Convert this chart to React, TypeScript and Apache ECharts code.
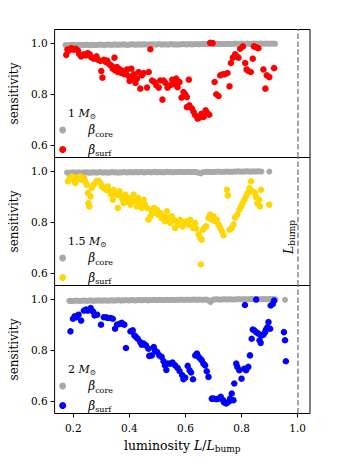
import React, { useEffect, useRef } from "react";
import * as echarts from "echarts";

const FONT = "'DejaVu Serif', 'Liberation Serif', serif";

// x tick labels, y tick labels
const xTicks = [0.2, 0.4, 0.6, 0.8, 1.0];
const yTicks = [0.6, 0.8, 1.0];
const panelTitles = ["1", "1.5", "2"];

// 1 Msun: [L/Lbump, beta_surf]
const surf1 = [
  [0.175,0.953],[0.179,0.974],[0.185,0.970],[0.193,0.979],[0.202,0.973],[0.209,0.977],[0.217,0.970],[0.221,0.957],
  [0.228,0.947],[0.238,0.955],[0.245,0.951],[0.252,0.960],[0.259,0.955],[0.264,0.944],[0.273,0.938],[0.283,0.947],
  [0.288,0.934],[0.297,0.929],[0.300,0.890],[0.304,0.864],[0.309,0.934],[0.316,0.925],[0.321,0.931],[0.327,0.918],
  [0.333,0.912],[0.339,0.908],[0.347,0.942],[0.341,0.899],[0.350,0.892],[0.356,0.905],[0.359,0.886],[0.366,0.896],
  [0.371,0.882],[0.378,0.890],[0.382,0.877],[0.387,0.886],[0.392,0.896],[0.398,0.869],[0.401,0.851],[0.407,0.899],
  [0.413,0.860],[0.416,0.877],[0.422,0.843],[0.427,0.860],[0.433,0.886],[0.439,0.821],[0.445,0.873],[0.451,0.882],
  [0.463,0.825],[0.469,0.886],[0.475,0.975],[0.481,0.853],[0.489,0.847],[0.496,0.834],[0.505,0.825],[0.510,0.853],
  [0.518,0.778],[0.522,0.853],[0.529,0.843],[0.536,0.825],[0.546,0.834],[0.553,0.856],[0.560,0.838],[0.567,0.860],
  [0.572,0.827],[0.579,0.847],[0.586,0.786],[0.593,0.808],[0.599,0.799],[0.605,0.788],[0.612,0.856],[0.605,0.749],
  [0.614,0.756],[0.623,0.743],[0.629,0.730],[0.635,0.717],[0.643,0.704],[0.650,0.708],[0.657,0.723],[0.665,0.710],
  [0.672,0.736],[0.679,0.725],[0.685,0.719],[0.688,1.000],[0.697,0.999],[0.704,0.847],[0.710,0.799],[0.718,0.792],
  [0.724,0.873],[0.733,0.877],[0.741,0.877],[0.750,0.882],[0.757,0.830],[0.762,0.921],[0.769,0.942],[0.777,0.955],
  [0.783,0.947],[0.789,0.942],[0.795,0.977],[0.805,0.986],[0.813,0.921],[0.818,0.896],[0.824,0.890],[0.833,0.886],
  [0.840,0.938],[0.844,0.986],[0.852,0.983],[0.860,0.979],[0.878,0.896],[0.885,0.821],[0.890,0.873],[0.899,0.866],
  [0.916,0.901]
];
const core1 = [
  [0.172,0.991],[0.179,0.990],[0.186,0.991],[0.193,0.992],[0.200,0.992],[0.207,0.991],[0.214,0.991],[0.221,0.992],
  [0.229,0.992],[0.236,0.991],[0.243,0.992],[0.250,0.993],[0.257,0.991],[0.264,0.992],[0.271,0.992],[0.278,0.991],
  [0.286,0.992],[0.293,0.993],[0.300,0.993],[0.307,0.992],[0.314,0.992],[0.321,0.993],[0.329,0.993],[0.336,0.992],
  [0.343,0.993],[0.350,0.994],[0.357,0.992],[0.364,0.993],[0.372,0.993],[0.379,0.994],[0.386,0.993],[0.393,0.992],
  [0.400,0.993],[0.407,0.994],[0.414,0.994],[0.421,0.993],[0.429,0.993],[0.436,0.994],[0.443,0.993],[0.450,0.994],
  [0.457,0.994],[0.464,0.993],[0.471,0.993],[0.478,0.994],[0.486,0.994],[0.493,0.993],[0.500,0.994],[0.507,0.995],
  [0.514,0.993],[0.521,0.994],[0.528,0.994],[0.536,0.993],[0.543,0.994],[0.550,0.995],[0.557,0.993],[0.564,0.994],
  [0.571,0.993],[0.578,0.994],[0.585,0.994],[0.592,0.995],[0.600,0.994],[0.607,0.994],[0.614,0.995],[0.621,0.994],
  [0.628,0.994],[0.635,0.995],[0.642,0.995],[0.650,0.994],[0.657,0.995],[0.664,0.996],[0.671,0.995],[0.678,0.995],
  [0.685,0.995],[0.692,0.996],[0.700,0.996],[0.707,0.995],[0.714,0.995],[0.721,0.996],[0.728,0.996],[0.735,0.995],
  [0.742,0.995],[0.750,0.996],[0.757,0.996],[0.764,0.995],[0.771,0.996],[0.778,0.997],[0.785,0.996],[0.792,0.996],
  [0.800,0.997],[0.807,0.996],[0.814,0.996],[0.821,0.997],[0.828,0.996],[0.835,0.996],[0.843,0.997],[0.850,0.997],
  [0.857,0.996],[0.864,0.997],[0.871,0.997],[0.878,0.996],[0.886,0.997],[0.893,0.997],[0.900,0.996],[0.907,0.997],
  [0.914,0.997],[0.920,0.996]
];

// 1.5 Msun
const surf2 = [
  [0.181,0.959],[0.187,0.972],[0.195,0.978],[0.202,0.965],[0.207,0.952],[0.214,0.974],[0.219,0.969],[0.226,0.978],
  [0.231,0.965],[0.238,0.972],[0.243,0.959],[0.248,0.946],[0.252,0.913],[0.254,0.874],[0.257,0.861],[0.262,0.900],
  [0.266,0.933],[0.273,0.946],[0.282,0.959],[0.290,0.961],[0.297,0.952],[0.302,0.939],[0.309,0.933],[0.317,0.926],
  [0.323,0.939],[0.329,0.920],[0.335,0.907],[0.341,0.887],[0.344,0.926],[0.349,0.913],[0.356,0.907],[0.359,0.855],
  [0.365,0.920],[0.370,0.900],[0.376,0.887],[0.380,0.874],[0.385,0.907],[0.392,0.881],[0.397,0.894],[0.404,0.868],
  [0.408,0.887],[0.415,0.907],[0.420,0.881],[0.427,0.861],[0.432,0.894],[0.439,0.874],[0.444,0.855],[0.451,0.887],
  [0.456,0.868],[0.463,0.855],[0.468,0.809],[0.475,0.822],[0.480,0.842],[0.487,0.855],[0.491,0.835],[0.499,0.848],
  [0.503,0.829],[0.510,0.835],[0.515,0.816],[0.522,0.822],[0.527,0.803],[0.534,0.842],[0.539,0.816],[0.546,0.796],
  [0.551,0.822],[0.558,0.809],[0.563,0.777],[0.570,0.803],[0.574,0.790],[0.581,0.809],[0.590,0.783],[0.596,0.796],
  [0.605,0.803],[0.611,0.790],[0.617,0.809],[0.627,0.777],[0.635,0.796],[0.638,0.774],[0.647,0.751],[0.653,0.738],
  [0.658,0.731],[0.655,0.634],[0.662,0.770],[0.667,0.777],[0.674,0.783],[0.682,0.816],[0.688,0.829],[0.694,0.809],
  [0.700,0.822],[0.706,0.803],[0.712,0.809],[0.718,0.790],[0.724,0.777],[0.730,0.764],[0.736,0.748],[0.748,0.926],
  [0.751,0.904],[0.757,0.770],[0.765,0.777],[0.771,0.790],[0.777,0.818],[0.785,0.829],[0.792,0.848],[0.798,0.861],
  [0.804,0.874],[0.810,0.887],[0.816,0.900],[0.822,0.913],[0.828,0.933],[0.834,0.959],[0.840,0.920],[0.848,0.913],
  [0.852,0.896],[0.856,0.874],[0.863,0.887],[0.866,0.861],[0.869,0.926],[0.899,0.868]
];
const core2 = [
  [0.178,0.993],[0.185,0.992],[0.192,0.993],[0.199,0.994],[0.206,0.993],[0.213,0.993],[0.220,0.994],[0.227,0.993],
  [0.234,0.993],[0.241,0.994],[0.248,0.994],[0.255,0.993],[0.262,0.993],[0.269,0.994],[0.276,0.994],[0.283,0.993],
  [0.290,0.994],[0.297,0.995],[0.304,0.993],[0.311,0.994],[0.318,0.994],[0.325,0.993],[0.332,0.994],[0.339,0.995],
  [0.346,0.994],[0.353,0.994],[0.360,0.993],[0.367,0.994],[0.374,0.994],[0.381,0.995],[0.388,0.994],[0.395,0.994],
  [0.402,0.995],[0.409,0.994],[0.416,0.994],[0.423,0.995],[0.430,0.994],[0.437,0.995],[0.444,0.995],[0.451,0.994],
  [0.458,0.994],[0.465,0.995],[0.472,0.995],[0.479,0.994],[0.486,0.995],[0.493,0.996],[0.500,0.994],[0.507,0.995],
  [0.514,0.995],[0.521,0.994],[0.528,0.995],[0.535,0.996],[0.542,0.995],[0.549,0.995],[0.556,0.994],[0.563,0.995],
  [0.570,0.995],[0.577,0.996],[0.584,0.995],[0.591,0.995],[0.598,0.995],[0.605,0.996],[0.612,0.995],[0.619,0.995],
  [0.626,0.995],[0.633,0.996],[0.640,0.994],[0.647,0.993],[0.654,0.990],[0.661,0.994],[0.668,0.995],[0.675,0.996],
  [0.682,0.996],[0.689,0.995],[0.696,0.995],[0.703,0.996],[0.710,0.996],[0.717,0.997],[0.724,0.996],[0.731,0.996],
  [0.738,0.996],[0.745,0.997],[0.752,0.997],[0.759,0.996],[0.766,0.996],[0.773,0.997],[0.780,0.997],[0.787,0.998],
  [0.794,0.997],[0.801,0.997],[0.808,0.997],[0.815,0.998],[0.822,0.998],[0.829,0.997],[0.836,0.997],[0.843,0.998],
  [0.850,0.997],[0.857,0.998],[0.864,0.998],[0.871,0.997],[0.899,0.997]
];

// 2 Msun
const surf3 = [
  [0.190,0.873],[0.199,0.922],[0.205,0.932],[0.211,0.928],[0.219,0.938],[0.228,0.915],[0.238,0.954],[0.246,0.958],
  [0.252,0.954],[0.262,0.964],[0.270,0.951],[0.276,0.935],[0.285,0.938],[0.299,0.899],[0.309,0.928],[0.317,0.928],
  [0.323,0.925],[0.333,0.925],[0.341,0.922],[0.349,0.883],[0.356,0.899],[0.365,0.902],[0.373,0.906],[0.382,0.899],
  [0.388,0.808],[0.404,0.873],[0.412,0.877],[0.418,0.857],[0.424,0.851],[0.430,0.844],[0.439,0.831],[0.444,0.821],
  [0.451,0.825],[0.459,0.818],[0.468,0.805],[0.471,0.777],[0.480,0.779],[0.487,0.812],[0.491,0.799],[0.499,0.792],
  [0.507,0.779],[0.515,0.773],[0.522,0.756],[0.527,0.740],[0.532,0.722],[0.537,0.747],[0.546,0.747],[0.554,0.751],
  [0.563,0.740],[0.572,0.730],[0.579,0.718],[0.588,0.702],[0.593,0.686],[0.599,0.692],[0.608,0.738],[0.615,0.721],
  [0.620,0.712],[0.627,0.686],[0.635,0.779],[0.641,0.786],[0.647,0.773],[0.653,0.766],[0.658,0.760],[0.664,0.747],
  [0.670,0.740],[0.676,0.717],[0.682,0.695],[0.694,0.610],[0.700,0.610],[0.710,0.608],[0.718,0.610],[0.726,0.617],
  [0.734,0.604],[0.738,0.595],[0.745,0.591],[0.753,0.597],[0.759,0.610],[0.762,0.604],[0.765,0.630],[0.771,0.604],
  [0.774,0.669],[0.781,0.747],[0.785,0.734],[0.792,0.721],[0.800,0.688],[0.809,0.727],[0.816,0.721],[0.824,0.734],
  [0.830,0.779],[0.812,0.976],[0.852,0.997],[0.904,0.974],[0.911,0.980],[0.916,0.993],[0.836,0.844],[0.840,0.880],
  [0.845,0.877],[0.852,0.870],[0.860,0.864],[0.864,0.838],[0.868,0.828],[0.872,0.857],[0.878,0.860],[0.884,0.870],
  [0.887,0.880],[0.892,0.889],[0.896,0.909],[0.902,0.883],[0.951,0.870],[0.955,0.838],[0.958,0.756]
];
const core3 = [
  [0.186,0.992],[0.193,0.991],[0.200,0.992],[0.207,0.993],[0.214,0.993],[0.221,0.992],[0.228,0.992],[0.235,0.993],
  [0.242,0.993],[0.249,0.992],[0.256,0.993],[0.263,0.994],[0.270,0.992],[0.277,0.993],[0.284,0.993],[0.291,0.994],
  [0.298,0.993],[0.305,0.993],[0.312,0.994],[0.319,0.993],[0.326,0.993],[0.333,0.994],[0.340,0.994],[0.347,0.993],
  [0.354,0.994],[0.361,0.995],[0.368,0.993],[0.375,0.994],[0.382,0.994],[0.389,0.995],[0.396,0.994],[0.403,0.994],
  [0.410,0.995],[0.417,0.994],[0.424,0.994],[0.431,0.995],[0.438,0.995],[0.445,0.994],[0.452,0.995],[0.459,0.996],
  [0.466,0.994],[0.473,0.995],[0.480,0.995],[0.487,0.996],[0.494,0.995],[0.501,0.995],[0.508,0.996],[0.515,0.995],
  [0.522,0.995],[0.529,0.996],[0.536,0.996],[0.543,0.995],[0.550,0.996],[0.557,0.996],[0.564,0.995],[0.571,0.996],
  [0.578,0.996],[0.585,0.997],[0.592,0.996],[0.599,0.996],[0.606,0.997],[0.613,0.996],[0.620,0.996],[0.627,0.997],
  [0.634,0.997],[0.641,0.996],[0.648,0.997],[0.655,0.997],[0.662,0.996],[0.669,0.997],[0.676,0.997],[0.683,0.993],
  [0.689,0.987],[0.695,0.995],[0.700,0.997],[0.707,0.998],[0.714,0.998],[0.721,0.997],[0.728,0.997],[0.735,0.998],
  [0.742,0.998],[0.749,0.997],[0.756,0.998],[0.763,0.998],[0.770,0.997],[0.777,0.998],[0.784,0.998],[0.791,0.999],
  [0.798,0.998],[0.805,0.998],[0.812,0.999],[0.819,0.998],[0.826,0.998],[0.833,0.999],[0.840,0.999],[0.847,0.998],
  [0.854,0.999],[0.861,0.999],[0.868,0.998],[0.875,0.999],[0.882,0.999],[0.889,0.998],[0.896,0.999],[0.903,0.999],
  [0.910,0.999],[0.916,0.998],[0.921,0.998],[0.955,0.996]
];

const surfData = [surf1, surf2, surf3];
const coreData = [core1, core2, core3];
const surfColors = ["#ff0000", "#ffd700", "#0000ff"];
const CORE_COLOR = "#a9a9a9";

const X_MIN = 0.1335, X_MAX = 1.044, Y_MIN = 0.552, Y_MAX = 1.052;
const GRID_LEFT = 54, GRID_W = 256, GRID_TOPS = [29.5, 157.5, 285.5], GRID_H = 128;

export default function App() {
  const ref = useRef<HTMLDivElement>(null);
  useEffect(() => {
    document.body.style.margin = "0";
    if (!ref.current) return;
    const chart = echarts.init(ref.current, null, { renderer: "svg" });

    const richLegend = {
      sp: { width: 17, fontSize: 12, lineHeight: 16 },
      b: { fontFamily: FONT, fontStyle: "italic", fontSize: 12, lineHeight: 16, color: "#000" },
      s: { fontFamily: FONT, fontSize: 8, lineHeight: 8, verticalAlign: "bottom", color: "#000" },
    };

    const grids = GRID_TOPS.map((t) => ({
      left: GRID_LEFT, width: GRID_W, top: t, height: GRID_H,
      show: true, borderColor: "#000", borderWidth: 1, backgroundColor: "transparent",
    }));

    const xAxes = GRID_TOPS.map((_, i) => ({
      type: "value", gridIndex: i, min: X_MIN, max: X_MAX,
      splitLine: { show: false },
      axisLine: { show: false },
      axisTick: { show: i === 2, inside: false, length: 4, lineStyle: { color: "#000" }, customValues: xTicks },
      axisLabel: {
        show: i === 2, customValues: xTicks, margin: 9, color: "#000", fontFamily: FONT, fontSize: 10.5,
        formatter: (v: number) => v.toFixed(1),
      },
      name: i === 2 ? "luminosity {i|L}/{i|L}{s|bump}" : "",
      nameLocation: "middle", nameGap: 24,
      nameTextStyle: {
        fontFamily: FONT, fontSize: 12.5, color: "#000", lineHeight: 16,
        rich: {
          i: { fontFamily: FONT, fontStyle: "italic", fontSize: 12.5, lineHeight: 16, color: "#000" },
          s: { fontFamily: FONT, fontSize: 9, lineHeight: 9, verticalAlign: "bottom", color: "#000" },
        },
      },
    }));

    const yAxes = GRID_TOPS.map((_, i) => ({
      type: "value", gridIndex: i, min: Y_MIN, max: Y_MAX,
      splitLine: { show: false },
      axisLine: { show: false },
      axisTick: { show: true, inside: false, length: 4, lineStyle: { color: "#000" }, customValues: yTicks },
      axisLabel: {
        customValues: yTicks, margin: 7, color: "#000", fontFamily: FONT, fontSize: 10.5,
        formatter: (v: number) => v.toFixed(1),
      },
      name: "sensitivity", nameLocation: "middle", nameGap: 34, nameRotate: 90,
      nameTextStyle: { fontFamily: FONT, fontSize: 12, color: "#000" },
    }));

    const series: any[] = [];
    GRID_TOPS.forEach((_, i) => {
      series.push({
        name: "core" + (i + 1), type: "scatter", xAxisIndex: i, yAxisIndex: i,
        data: coreData[i], symbolSize: 6, itemStyle: { color: CORE_COLOR, opacity: 1 },
        z: 2, silent: true,
        markLine: {
          symbol: ["none", "none"], silent: true, label: { show: false },
          lineStyle: { color: "#8c8c8c", width: 1.5, type: [5.5, 2.4] },
          data: [{ xAxis: 1.0 }],
        },
      });
      series.push({
        name: "surf" + (i + 1), type: "scatter", xAxisIndex: i, yAxisIndex: i,
        data: surfData[i], symbolSize: 6.5, itemStyle: { color: surfColors[i], opacity: 1 },
        z: 3, silent: true,
      });
    });

    const legends = GRID_TOPS.map((t, i) => ({
      orient: "vertical", left: 59.2, top: t + 94.5, padding: 0,
      itemWidth: 7, itemHeight: 7, itemGap: 5.5, icon: "circle", selectedMode: false,
      data: ["core" + (i + 1), "surf" + (i + 1)],
      formatter: (name: string) => (name.startsWith("core") ? "{sp| }{b|β}{s|core}" : "{sp| }{b|β}{s|surf}"),
      textStyle: { rich: richLegend, fontFamily: FONT, color: "#000" },
    }));

    const graphics: any[] = GRID_TOPS.map((t, i) => ({
      type: "text", x: 68, y: t + 83.8,
      style: {
        text: panelTitles[i] + " {i|M}{s|⊙}",
        fontFamily: FONT, fontSize: 11, fill: "#000", verticalAlign: "middle", align: "left",
        rich: {
          i: { fontFamily: FONT, fontStyle: "italic", fontSize: 11, lineHeight: 14, fill: "#000" },
          s: { fontFamily: FONT, fontSize: 7.5, lineHeight: 7, verticalAlign: "bottom", fill: "#000" },
        },
      },
    }));
    graphics.push({
      type: "text", x: 288.5, y: 237, rotation: Math.PI / 2,
      style: {
        text: "{i|L}{s|bump}", fontFamily: FONT, fill: "#000", align: "center", verticalAlign: "middle",
        rich: {
          i: { fontFamily: FONT, fontStyle: "italic", fontSize: 12.5, lineHeight: 16, fill: "#000" },
          s: { fontFamily: FONT, fontSize: 9, lineHeight: 9, verticalAlign: "bottom", fill: "#000" },
        },
      },
    });

    chart.setOption({
      animation: false,
      backgroundColor: "#fff",
      textStyle: { fontFamily: FONT },
      grid: grids,
      xAxis: xAxes,
      yAxis: yAxes,
      legend: legends,
      series,
      graphic: graphics,
    });
    return () => chart.dispose();
  }, []);
  return <div ref={ref} style={{ width: 347, height: 474 }} />;
}
